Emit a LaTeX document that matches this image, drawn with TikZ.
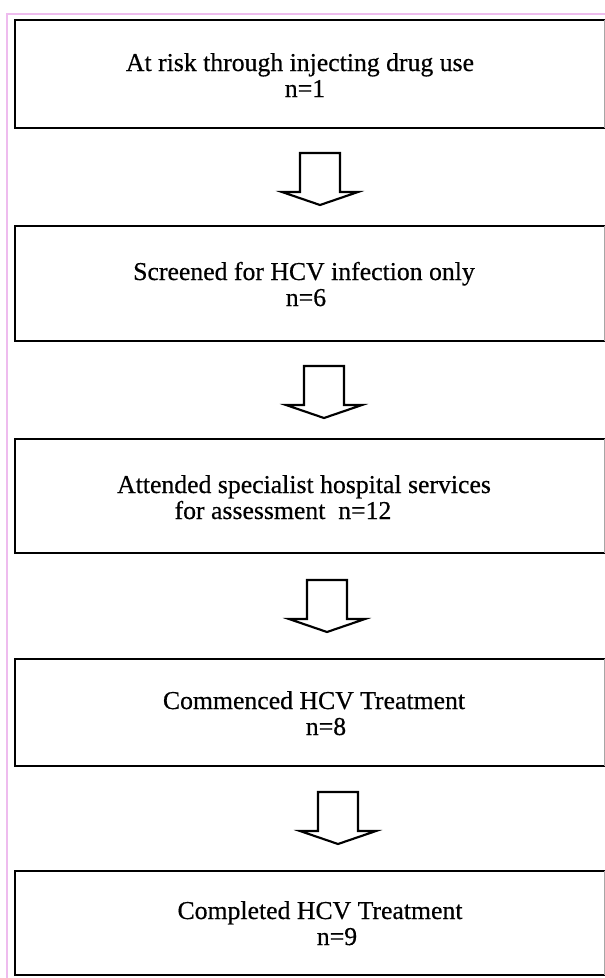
\documentclass[tikz,border=0pt]{standalone}
\usepackage{fontspec}
\setmainfont{Liberation Serif}
\newfontfamily\scanfont{Liberation Serif}[FakeBold=0.5]
\definecolor{framepink}{RGB}{238,188,238}
\tikzset{
  flowbox/.style={draw=none, rectangle, inner sep=0pt, minimum width=442.5pt},
  boxedge/.style={draw=black, line width=1.7pt, line join=miter},
  rightedge/.style={draw=black!35, line width=0.5pt},
  lbl/.style={anchor=base, inner sep=0pt, font=\scanfont\fontsize{19.3}{22}\selectfont},
  arrowline/.style={draw=black, line width=1.6pt, line join=miter, fill=white},
  blockarrow/.pic={\path[arrowline] (-20,0) -- (20,0) -- (20,39) -- (38,39) -- (0,52) -- (-38,39) -- (-20,39) -- cycle;}
}
\begin{document}
\begin{tikzpicture}[x=0.75pt,y=-0.75pt]
\useasboundingbox (0,0) rectangle (605,978);
\fill[white] (0,0) rectangle (605,978);
\draw[framepink, line width=0.8pt] (7,978) -- (7,14) -- (605,14);

\node[flowbox, minimum height=81pt]    (b1) at (310,74) {};
\node[flowbox, minimum height=86.25pt] (b2) at (310,283.5) {};
\node[flowbox, minimum height=85.5pt]  (b3) at (310,496) {};
\node[flowbox, minimum height=80.25pt] (b4) at (310,712.5) {};
\node[flowbox, minimum height=78pt]    (b5) at (310,923) {};
\foreach \b in {b1,b2,b3,b4,b5}{
  \draw[boxedge] (\b.north east) -- (\b.north west) -- (\b.south west) -- (\b.south east);
  \draw[rightedge] ([xshift=-1pt]\b.north east) -- ([xshift=-1pt]\b.south east);
}

\node[lbl] (t1a) at (300,71) {At risk through injecting drug use};
\node[lbl] (t1b) at (305,97) {n=1};
\node[lbl] (t2a) at (304,280) {Screened for HCV infection only};
\node[lbl] (t2b) at (306,306) {n=6};
\node[lbl] (t3a) at (304,493) {Attended specialist hospital services};
\node[lbl] (t3b) at (283,519) {for assessment\ \ n=12};
\node[lbl] (t4a) at (314,709) {Commenced HCV Treatment};
\node[lbl] (t4b) at (326,735) {n=8};
\node[lbl] (t5a) at (320,919) {Completed HCV Treatment};
\node[lbl] (t5b) at (337,945) {n=9};

\coordinate (a1) at (320,153);
\coordinate (a2) at (324,366);
\coordinate (a3) at (327,580);
\coordinate (a4) at (338,792);
\pic at (a1) {blockarrow};
\pic at (a2) {blockarrow};
\pic at (a3) {blockarrow};
\pic at (a4) {blockarrow};
\end{tikzpicture}
\end{document}
